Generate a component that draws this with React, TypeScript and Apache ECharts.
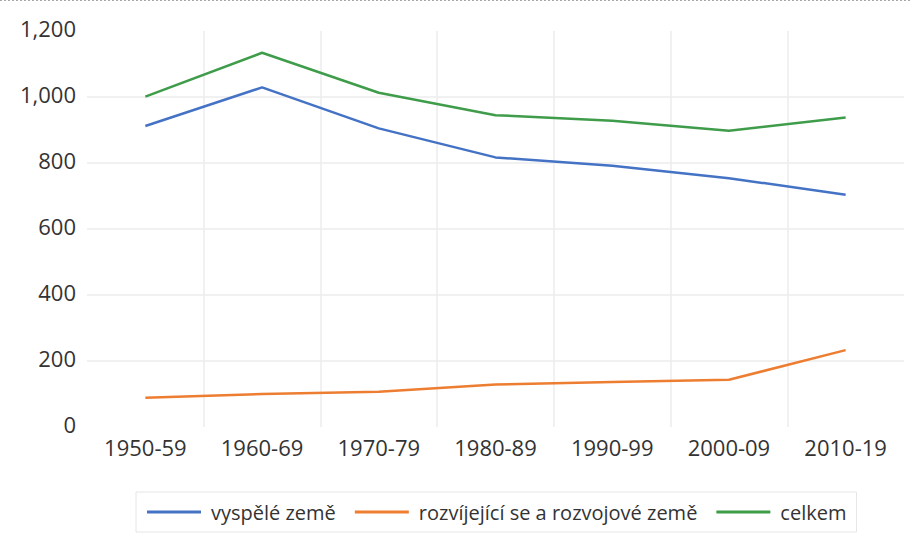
import React, { useEffect, useRef } from "react";
import * as echarts from "echarts";

const categories = ["1950-59", "1960-69", "1970-79", "1980-89", "1990-99", "2000-09", "2010-19"];
const developed = [912, 1029, 905, 817, 792, 754, 704];
const developing = [89, 100, 107, 129, 136, 143, 233];
const total = [1001, 1134, 1013, 945, 928, 898, 938];
const seriesNames = ["vyspělé země", "rozvíjející se a rozvojové země", "celkem"];
const colors = ["#4472C4", "#ED7D31", "#3F9C4A"];

const FONT = "'Open Sans', sans-serif";

export default function App() {
  const ref = useRef<HTMLDivElement>(null);
  useEffect(() => {
    if (!ref.current) return;
    const chart = echarts.init(ref.current, null, { renderer: "svg" });
    const data = [developed, developing, total];
    chart.setOption({
      animation: false,
      backgroundColor: "#ffffff",
      grid: { left: 87, right: 7, top: 31, bottom: 118, containLabel: false },
      graphic: [
        {
          type: "line",
          shape: { x1: 0, y1: 0.5, x2: 911, y2: 0.5 },
          style: { stroke: "#a8a8a8", lineWidth: 1, lineDash: [2, 2] },
        },
      ],
      xAxis: {
        type: "category",
        data: categories,
        boundaryGap: true,
        axisLine: { show: false },
        axisTick: { show: false },
        axisLabel: { color: "#333333", fontFamily: FONT, fontSize: 22, margin: 9 },
        splitLine: {
          show: true,
          showMinLine: false,
          showMaxLine: false,
          lineStyle: { color: "#ececec", width: 1.5 },
        },
      },
      yAxis: {
        type: "value",
        min: 0,
        max: 1200,
        interval: 200,
        axisLine: { show: false },
        axisTick: { show: false },
        axisLabel: {
          color: "#333333",
          fontFamily: FONT,
          fontSize: 22,
          margin: 11,
          verticalAlign: "bottom",
          lineHeight: 7,
          formatter: (v: number) => v.toLocaleString("en-US"),
        },
        splitLine: {
          show: true,
          showMinLine: false,
          showMaxLine: false,
          lineStyle: { color: "#ececec", width: 1.5 },
        },
      },
      legend: {
        left: 136,
        top: 492,
        data: seriesNames,
        icon: "rect",
        itemWidth: 54,
        itemHeight: 3,
        itemGap: 19,
        borderColor: "#e6e6e6",
        borderWidth: 1,
        padding: [10, 10, 10, 11],
        textStyle: {
          color: "#333333",
          fontFamily: FONT,
          fontSize: 20,
          lineHeight: 20,
          padding: [0, 0, 0, 5],
        },
      },
      series: seriesNames.map((name, i) => ({
        name,
        type: "line",
        data: data[i],
        symbol: "none",
        color: colors[i],
        lineStyle: { color: colors[i], width: 2.5 },
      })),
    });
    return () => chart.dispose();
  }, []);
  return (
    <div
      ref={ref}
      style={{ position: "fixed", left: 0, top: 0, width: 911, height: 545 }}
    />
  );
}
